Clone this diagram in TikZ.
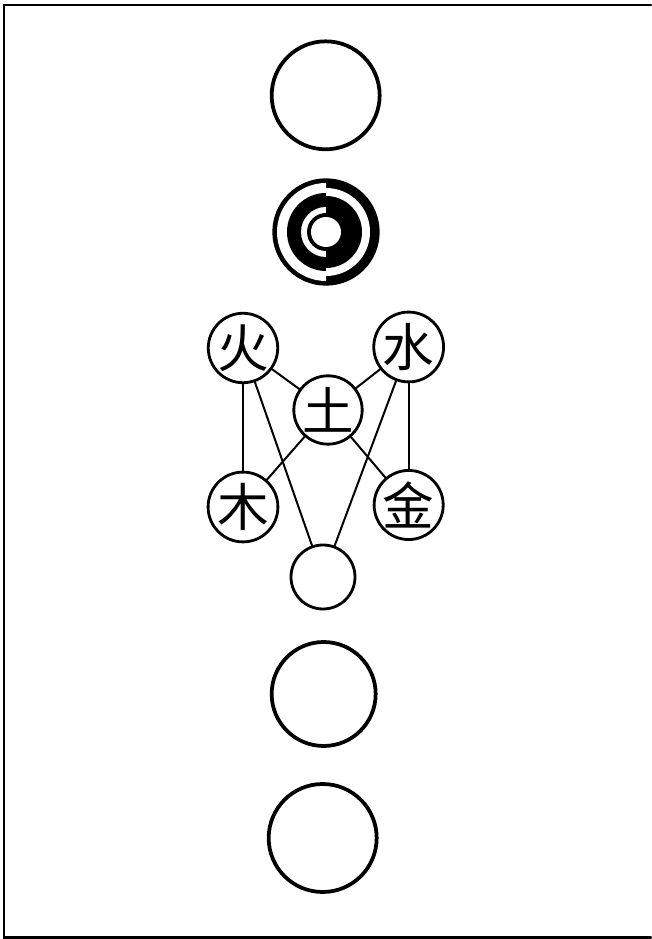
\documentclass[tikz,border=0pt]{standalone}
\usepackage{fontspec}
\newfontfamily\cjk{Noto Sans CJK SC}

\begin{document}
\begin{tikzpicture}[line cap=round,
  ring/.style={circle,draw,line width=3.2pt,minimum size=3.24cm,inner sep=0pt},
  phase/.style={circle,draw,line width=2.4pt,minimum size=1.86cm,inner sep=0pt,
                font=\cjk\fontsize{44}{44}\selectfont},
  link/.style={line width=1.7pt}]
\useasboundingbox (0,0) rectangle (19.53,28.17);
\draw[line width=2.4pt] (19.53,28.02) -- (0.12,28.02) -- (0.12,0.05) -- (19.53,0.05);

\node[ring] (wuji) at (9.77,25.31) {};

\coordinate (yinyang) at (9.78,21.21);
\fill (yinyang) circle (1.61);
\begin{scope}
\clip (8,19.4) rectangle (9.78,23);
\fill[white] (yinyang) circle (1.47);
\fill (yinyang) circle (1.17);
\fill[white] (yinyang) circle (0.75);
\fill (yinyang) circle (0.57);
\end{scope}
\begin{scope}
\clip (9.78,19.4) rectangle (11.6,23);
\fill[white] (yinyang) circle (1.32);
\fill (yinyang) circle (1.08);
\end{scope}
\fill[white] (yinyang) circle (0.45);

\node[phase] (huo) at (7.29,17.73) {火};
\node[phase] (shui) at (12.26,17.76) {水};
\node[phase,minimum size=1.98cm] (tu) at (9.84,15.87) {土};
\node[phase] (mu) at (7.29,12.96) {木};
\node[phase] (jin) at (12.26,13.02) {金};
\node[phase,minimum size=1.92cm] (hun) at (9.69,10.86) {};

\foreach \a/\b in {huo/mu,shui/jin,huo/tu,shui/tu,tu/mu,tu/jin,huo/hun,shui/hun}
  \draw[link] (\a) -- (\b);

\node[ring,minimum size=3.12cm] (qiankun) at (9.71,7.35) {};
\node[ring] (wanwu) at (9.68,3.03) {};
\end{tikzpicture}
\end{document}
